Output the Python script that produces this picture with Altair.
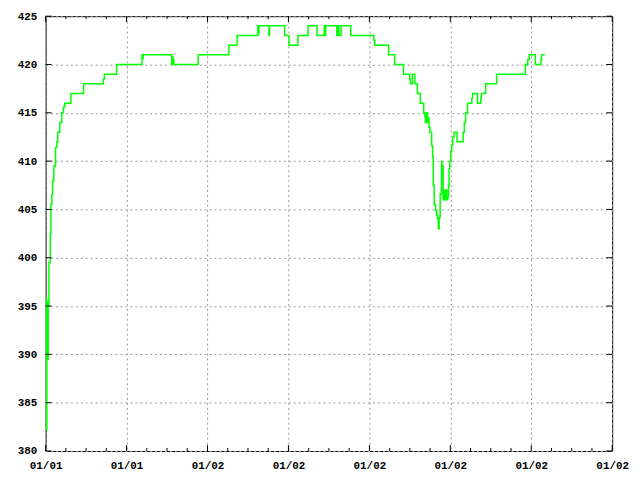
import altair as alt
import pandas as pd

start = "2000-01-01 16:00"
minutes = [0.0, 1.5, 3.5, 5.6, 7.6, 9.7, 13.8, 15.6, 18.5, 20.6, 24.4, 29.4, 33.2, 36.1, 42.0, 47.9,
           52.9, 56.7, 74.9, 112.5, 171.2, 174.2, 210.6, 285.8, 287.2, 289.0, 373.9, 375.4, 377.4,
           378.9, 380.4, 452.3, 543.4, 567.7, 629.1, 630.9, 632.6, 662.3, 663.8, 708.7, 721.6, 748.1,
           778.3, 804.8, 826.2, 828.3, 830.3, 863.5, 866.5, 869.4, 876.1, 904.6, 973.1, 976.0,
           1017.1, 1035.3, 1061.2, 1079.4, 1081.7, 1087.6, 1094.7, 1102.3, 1111.1, 1121.1, 1124.0,
           1126.1, 1129.3, 1132.3, 1134.6, 1136.7, 1139.6, 1144.6, 1147.5, 1149.3, 1152.2, 1156.3,
           1159.3, 1162.2, 1164.6, 1166.9, 1169.9, 1174.0, 1175.5, 1176.9, 1178.7, 1180.8, 1183.7,
           1186.6, 1189.6, 1192.5, 1194.6, 1196.3, 1198.4, 1201.4, 1204.3, 1207.2, 1211.0, 1219.8,
           1238.0, 1241.5, 1245.3, 1251.2, 1263.8, 1265.9, 1280.6, 1290.3, 1292.3, 1304.9, 1337.3,
           1422.4, 1429.5, 1434.2, 1451.8, 1468.6, 1470.6, 1480.3]
values = [396, 382.2, 395.5, 389.5, 395, 399.5, 402.5, 405.5, 406.5, 408, 409.5, 411.4, 412, 413, 414, 415,
          415.6, 416, 417, 418, 418.5, 419, 420, 421, 420.6, 421, 420, 420.8, 420,
          420.5, 420, 421, 422, 423, 424, 423.2, 424, 423, 424, 423, 422, 423,
          424, 423, 424, 423, 424, 423, 424, 423, 424, 423, 422.5, 422,
          421, 420, 419, 418.5, 418, 419, 418, 417, 416, 415, 414.6,
          414, 415, 414, 414.5, 413.5, 413, 411.6, 410.4, 407.5, 405.5, 404.9,
          404.4, 404, 403, 404.2, 406.6, 410, 408, 409.5, 406, 407, 406,
          407, 406, 406.3, 407.5, 409.2, 410, 411, 411.7, 412.5, 413, 412,
          413, 414, 415, 416, 416.5, 417, 416, 416.5, 417, 418, 419,
          420, 420.5, 421, 420, 420.5, 421, 421]

y_ticks = [380, 385, 390, 395, 400, 405, 410, 415, 420, 425]
x_major_hours = [0, 4, 8, 12, 16, 20, 24, 28]
x_minor_hours = [h for h in range(0, 29) if h % 4 != 0]

t0 = pd.Timestamp(start)
df = pd.DataFrame({"t": t0 + pd.to_timedelta(minutes, unit="min"), "v": values})
major_df = pd.DataFrame({"t": [t0 + pd.Timedelta(hours=h) for h in x_major_hours]})
minor_df = pd.DataFrame({"t": [t0 + pd.Timedelta(hours=h) for h in x_minor_hours]})
ytick_df = pd.DataFrame({"v": y_ticks})


def dt(h):
    ts = t0 + pd.Timedelta(hours=h)
    return alt.DateTime(year=ts.year, month=ts.month, date=ts.day, hours=ts.hour)


W, H = 572, 439
FONT = "Liberation Mono"
xscale = alt.Scale(domain=[dt(0), dt(28)], nice=False)
yscale = alt.Scale(domain=[380, 425], nice=False, zero=False)

common_axis = dict(title=None, ticks=False, tickSize=0, domain=False, grid=True,
                   gridDash=[2, 3], gridColor="#999999", gridWidth=1,
                   labelFont=FONT, labelFontSize=11, labelFontWeight="bold",
                   labelColor="black", labelPadding=9, labelOverlap=False)

xaxis = alt.Axis(values=[dt(h) for h in x_major_hours], format="%m/%d",
                 labelFlush=False, **common_axis)
yaxis = alt.Axis(values=y_ticks, **common_axis)

line = alt.Chart(df).mark_line(interpolate="step-after", color="#00ff00",
                               strokeWidth=1.5, clip=True).encode(
    x=alt.X("t:T", scale=xscale, axis=xaxis),
    y=alt.Y("v:Q", scale=yscale, axis=yaxis),
)

tick_style = dict(color="black", strokeWidth=1)
bx_major = alt.Chart(major_df).mark_rule(**tick_style).encode(
    x=alt.X("t:T", scale=xscale, axis=xaxis), y=alt.value(H), y2=alt.value(H - 6))
tx_major = alt.Chart(major_df).mark_rule(**tick_style).encode(
    x=alt.X("t:T", scale=xscale, axis=xaxis), y=alt.value(0), y2=alt.value(6))
bx_minor = alt.Chart(minor_df).mark_rule(**tick_style).encode(
    x=alt.X("t:T", scale=xscale, axis=xaxis), y=alt.value(H), y2=alt.value(H - 3))
tx_minor = alt.Chart(minor_df).mark_rule(**tick_style).encode(
    x=alt.X("t:T", scale=xscale, axis=xaxis), y=alt.value(0), y2=alt.value(3))
ly = alt.Chart(ytick_df).mark_rule(**tick_style).encode(
    y=alt.Y("v:Q", scale=yscale, axis=yaxis), x=alt.value(0), x2=alt.value(6))
ry = alt.Chart(ytick_df).mark_rule(**tick_style).encode(
    y=alt.Y("v:Q", scale=yscale, axis=yaxis), x=alt.value(W), x2=alt.value(W - 6))

chart = alt.layer(line, bx_major, tx_major, bx_minor, tx_minor, ly, ry).properties(
    width=W, height=H,
    autosize=alt.AutoSizeParams(type="none"),
    padding={"left": 38, "top": 6, "right": 20, "bottom": 25},
    background="white",
).configure_view(stroke="black", strokeWidth=1)

chart.save("out.html", embed_options={"renderer": "svg", "actions": False})
